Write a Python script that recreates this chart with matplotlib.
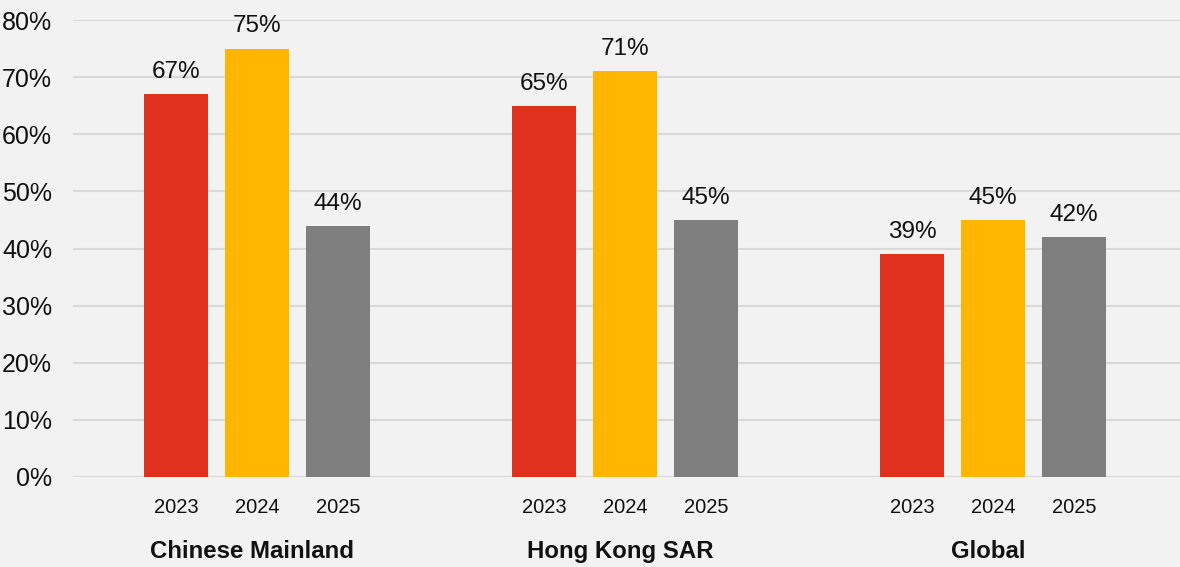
import numpy as np
import matplotlib
matplotlib.use("Agg")
import matplotlib.pyplot as plt
from matplotlib.transforms import blended_transform_factory

plt.rcParams['font.family'] = ['Liberation Sans', 'DejaVu Sans']

regions = ['Chinese Mainland', 'Hong Kong SAR', 'Global']
years = ['2023', '2024', '2025']
vals_2023 = [67, 65, 39]
vals_2024 = [75, 71, 45]
vals_2025 = [44, 45, 42]
colors = ['#e0301e', '#ffb600', '#7f7f7f']

series = [vals_2023, vals_2024, vals_2025]

fig = plt.figure(figsize=(11.8, 5.67), dpi=100, facecolor='#f2f2f2')
ax = fig.add_axes([73 / 1180, 1 - 477 / 567, 1 - 73 / 1180, (477 - 20) / 567])
ax.set_facecolor('#f2f2f2')

group_gap = 368 / 81   # distance between group centres, in bar steps
width = 64 / 81
centres = np.arange(len(regions)) * group_gap

for j, vals in enumerate(series):
    xs = centres + (j - 1)
    ax.bar(xs, np.array(vals) / 100, width=width, color=colors[j], zorder=3)
    for x, v in zip(xs, vals):
        ax.annotate(f'{v}%', (x, v / 100), xytext=(0, 8), textcoords='offset points',
                    ha='center', va='bottom', fontsize=17.5, color='#111111')

# year labels under each bar, region names below them
trans = blended_transform_factory(ax.transData, ax.transAxes)
for i, c in enumerate(centres):
    for j, y in enumerate(years):
        ax.text(c + (j - 1), -0.066, y, transform=trans, ha='center', va='center',
                fontsize=14.5, color='#111111')
    ax.text(c - 0.06, -0.164, regions[i], transform=trans, ha='center', va='center',
            fontsize=17.3, fontweight='bold', color='#111111')

ax.set_ylim(0, 0.8)
ax.set_xlim(centres[0] - 1 - (176 - 73) / 81, centres[0] - 1 + (1180 - 176) / 81)
ticks = np.arange(0, 0.81, 0.1)
ax.set_yticks(ticks)
ax.set_yticklabels([f'{int(round(t * 100))}%' for t in ticks], fontsize=18, color='#111111')
ax.set_xticks([])
ax.tick_params(axis='y', length=0, pad=15)

ax.grid(axis='y', color='#d9d9d9', linewidth=1.5, zorder=0)
for s in ['top', 'right', 'left', 'bottom']:
    ax.spines[s].set_visible(False)

fig.savefig('out.png', dpi=100, facecolor=fig.get_facecolor())
